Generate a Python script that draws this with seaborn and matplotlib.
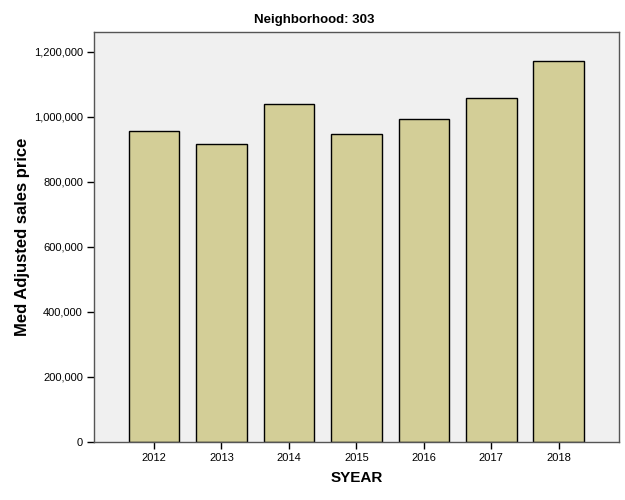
import matplotlib
matplotlib.use('Agg')
import matplotlib.pyplot as plt
from matplotlib.ticker import FuncFormatter
import pandas as pd
import seaborn as sns

# dados
anos = ['2012', '2013', '2014', '2015', '2016', '2017', '2018']
precos = [957000, 917000, 1041000, 949000, 995000, 1059000, 1172000]

df = pd.DataFrame({'SYEAR': anos, 'preco': precos})

sns.set_style('white')
plt.rcParams['font.family'] = ['Liberation Sans', 'DejaVu Sans']
plt.rcParams['text.color'] = 'black'
plt.rcParams['axes.labelcolor'] = 'black'

fig = plt.figure(figsize=(6.25, 5), dpi=100)
ax = fig.add_axes([0.1504, 0.116, 0.8396, 0.82])
ax.set_facecolor('#f0f0f0')

sns.barplot(data=df, x='SYEAR', y='preco', color='#d3ce97', saturation=1,
            width=0.75, edgecolor='black', linewidth=1.0, ax=ax)

ax.set_xlim(-0.89, 6.89)
ax.set_ylim(0, 1261500)
ax.set_yticks([0, 200000, 400000, 600000, 800000, 1000000, 1200000])
ax.yaxis.set_major_formatter(FuncFormatter(lambda v, pos: f'{int(v):,}'))

for s in ax.spines.values():
    s.set_color('#555555')
    s.set_linewidth(1.0)
    s.set_visible(True)

ax.tick_params(axis='both', direction='out', length=5, width=1,
               color='black', labelsize=8, labelcolor='black', pad=3)
ax.tick_params(left=True, bottom=True)

ax.set_xlabel('SYEAR', fontsize=11, fontweight='bold', labelpad=6, color='black')
ax.set_ylabel('Med Adjusted sales price', fontsize=12, fontweight='bold',
              labelpad=3, color='black')
fig.text(0.503, 0.96, 'Neighborhood: 303', ha='center', va='center',
         fontsize=9.5, fontweight='bold', color='black')

fig.savefig('out.png', dpi=100)
plt.close(fig)
